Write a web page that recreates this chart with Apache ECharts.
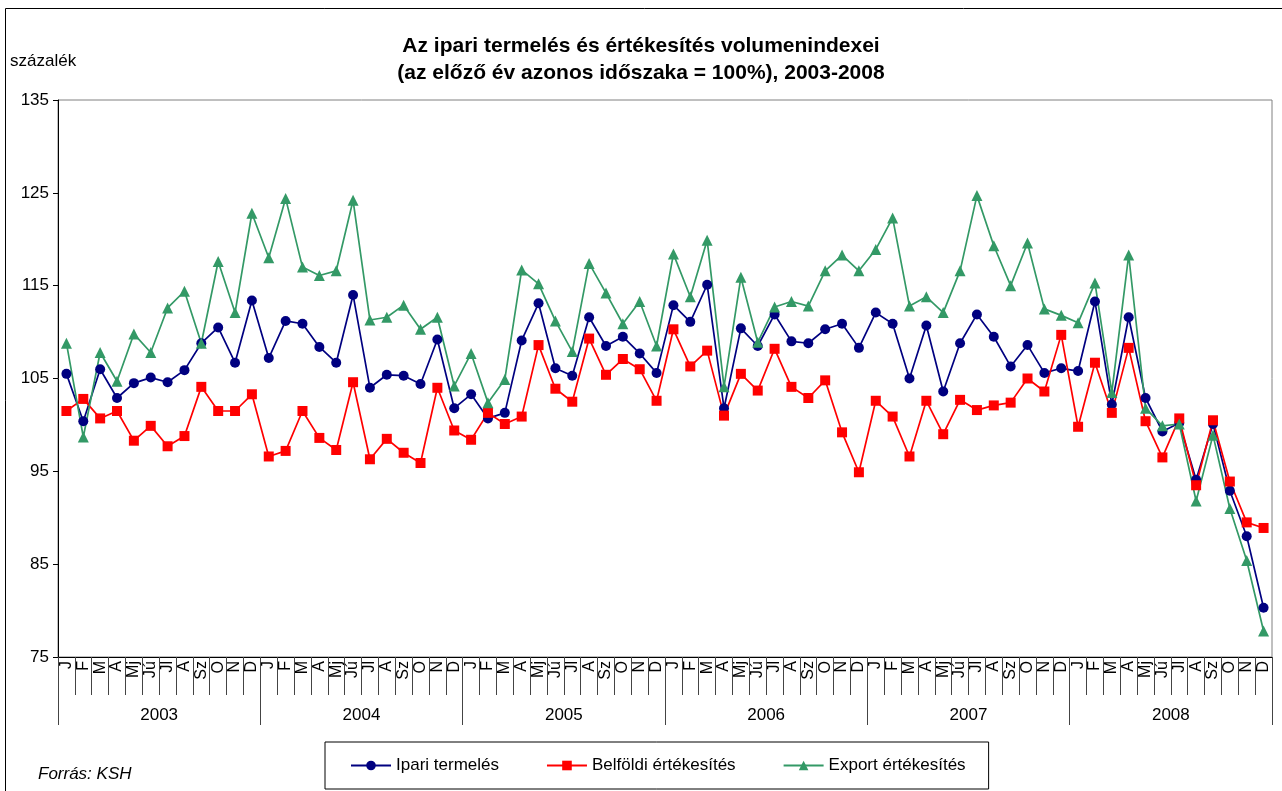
<!DOCTYPE html>
<html style="height: 100%" lang="hu">
<head>
  <meta charset="utf-8">
  <title>Ipari termelés</title>
  <script src="https://cdn.jsdelivr.net/npm/echarts@6/dist/echarts.min.js"></script>
</head>
<body style="height: 100%; margin: 0; background: #fff">
<div id="container" style="width: 1282px; height: 791px"></div>
<script type="text/javascript">
  var months = ['J', 'F', 'M', 'A', 'Mj', 'Jú', 'Jl', 'A', 'Sz', 'O', 'N', 'D'];
  var years = ['2003', '2004', '2005', '2006', '2007', '2008'];

  // Ipari termelés
  var ipari = [
    105.5, 100.4, 106.0, 102.9, 104.5, 105.1, 104.6, 105.9, 108.8, 110.5, 106.7, 113.4,
    107.2, 111.2, 110.9, 108.4, 106.7, 114.0, 104.0, 105.4, 105.3, 104.4, 109.2, 101.8,
    103.3, 100.7, 101.3, 109.1, 113.1, 106.1, 105.3, 111.6, 108.5, 109.5, 107.7, 105.6,
    112.9, 111.1, 115.1, 101.8, 110.4, 108.5, 111.9, 109.0, 108.8, 110.3, 110.9, 108.3,
    112.1, 110.9, 105.0, 110.7, 103.6, 108.8, 111.9, 109.5, 106.3, 108.6, 105.6, 106.1,
    105.8, 113.3, 102.2, 111.6, 102.9, 99.3, 100.2, 94.1, 100.1, 92.9, 88.0, 80.3
  ];
  // Belföldi értékesítés
  var belfoldi = [
    101.5, 102.8, 100.7, 101.5, 98.3, 99.9, 97.7, 98.8, 104.1, 101.5, 101.5, 103.3,
    96.6, 97.2, 101.5, 98.6, 97.3, 104.6, 96.3, 98.5, 97.0, 95.9, 104.0, 99.4,
    98.4, 101.3, 100.1, 100.9, 108.6, 103.9, 102.5, 109.3, 105.4, 107.1, 106.0, 102.6,
    110.3, 106.3, 108.0, 101.0, 105.5, 103.7, 108.2, 104.1, 102.9, 104.8, 99.2, 94.9,
    102.6, 100.9, 96.6, 102.6, 99.0, 102.7, 101.6, 102.1, 102.4, 105.0, 103.6, 109.7,
    99.8, 106.7, 101.3, 108.3, 100.4, 96.5, 100.7, 93.5, 100.5, 93.9, 89.5, 88.9
  ];
  // Export értékesítés
  var exportErt = [
    108.8, 98.7, 107.8, 104.7, 109.8, 107.8, 112.6, 114.4, 108.8, 117.6, 112.1, 122.8,
    118.0, 124.4, 117.0, 116.1, 116.6, 124.2, 111.3, 111.6, 112.9, 110.3, 111.6, 104.2,
    107.7, 102.4, 104.9, 116.7, 115.2, 111.2, 107.9, 117.4, 114.2, 110.9, 113.3, 108.5,
    118.4, 113.8, 119.9, 104.1, 115.9, 108.9, 112.7, 113.3, 112.8, 116.6, 118.3, 116.6,
    118.9, 122.3, 112.8, 113.8, 112.1, 116.6, 124.7, 119.3, 115.0, 119.6, 112.5, 111.8,
    111.0, 115.3, 103.5, 118.3, 101.8, 99.9, 100.1, 91.8, 98.9, 91.0, 85.4, 77.8
  ];

  var monthCats = [];
  years.forEach(function () {
    months.forEach(function (m) { monthCats.push(m); });
  });

  var font = 'Arial, "Liberation Sans", sans-serif';
  var myChart = echarts.init(document.getElementById('container'));

  var option = {
    animation: false,
    textStyle: { fontFamily: font, color: '#000' },
    title: {
      text: 'Az ipari termelés és értékesítés volumenindexei\n(az előző év azonos időszaka = 100%), 2003-2008',
      left: 'center',
      top: 28,
      textStyle: { fontSize: 21, fontWeight: 'bold', lineHeight: 27, color: '#000', fontFamily: font }
    },
    graphic: [
      { type: 'rect', left: 3, top: 6, shape: { width: 1400, height: 1000 },
        style: { fill: 'none', stroke: '#000', lineWidth: 1 }, silent: true },
      { type: 'text', left: 10, top: 53, style: { text: 'százalék', fontSize: 17, fill: '#000', fontFamily: font } },
      { type: 'text', left: 38, top: 766, style: { text: 'Forrás: KSH', fontSize: 17, fontStyle: 'italic', fill: '#000', fontFamily: font } }
    ],
    legend: {
      left: 325,
      top: 742,
      padding: [15, 23, 15, 25],
      borderColor: '#000',
      borderWidth: 1,
      itemGap: 47,
      itemWidth: 40,
      itemHeight: 12,
      textStyle: { fontSize: 17, color: '#000', fontFamily: font },
      data: ['Ipari termelés', 'Belföldi értékesítés', 'Export értékesítés']
    },
    grid: {
      left: 58,
      right: 10,
      top: 100,
      bottom: 134,
      show: true,
      borderColor: '#808080',
      borderWidth: 1
    },
    xAxis: [
      {
        type: 'category',
        data: monthCats,
        boundaryGap: true,
        axisLine: { lineStyle: { color: '#000', width: 1 } },
        axisTick: { show: true, interval: 0, length: 38, lineStyle: { color: '#444' } },
        axisLabel: { interval: 0, rotate: 90, fontSize: 16, margin: 4, color: '#000' }
      },
      {
        type: 'category',
        data: years,
        position: 'bottom',
        boundaryGap: true,
        axisLine: { show: false },
        axisTick: { show: true, interval: 0, length: 68, lineStyle: { color: '#444' } },
        axisLabel: { fontSize: 17, margin: 50, color: '#000' }
      }
    ],
    yAxis: {
      type: 'value',
      min: 75,
      max: 135,
      interval: 10,
      axisLine: { show: true, lineStyle: { color: '#000' } },
      axisTick: { show: true, length: 5, lineStyle: { color: '#000' } },
      axisLabel: { fontSize: 17, margin: 9, color: '#000' },
      splitLine: { show: false }
    },
    series: [
      {
        name: 'Ipari termelés',
        type: 'line',
        data: ipari,
        symbol: 'circle',
        symbolSize: 10,
        color: '#000080',
        lineStyle: { width: 1.7, color: '#000080' },
        itemStyle: { color: '#000080' }
      },
      {
        name: 'Belföldi értékesítés',
        type: 'line',
        data: belfoldi,
        symbol: 'rect',
        symbolSize: 10,
        color: '#ff0000',
        lineStyle: { width: 1.7, color: '#ff0000' },
        itemStyle: { color: '#ff0000' }
      },
      {
        name: 'Export értékesítés',
        type: 'line',
        data: exportErt,
        symbol: 'triangle',
        symbolSize: 11,
        color: '#339966',
        lineStyle: { width: 1.7, color: '#339966' },
        itemStyle: { color: '#339966' }
      }
    ]
  };

  myChart.setOption(option);
</script>
</body>
</html>
